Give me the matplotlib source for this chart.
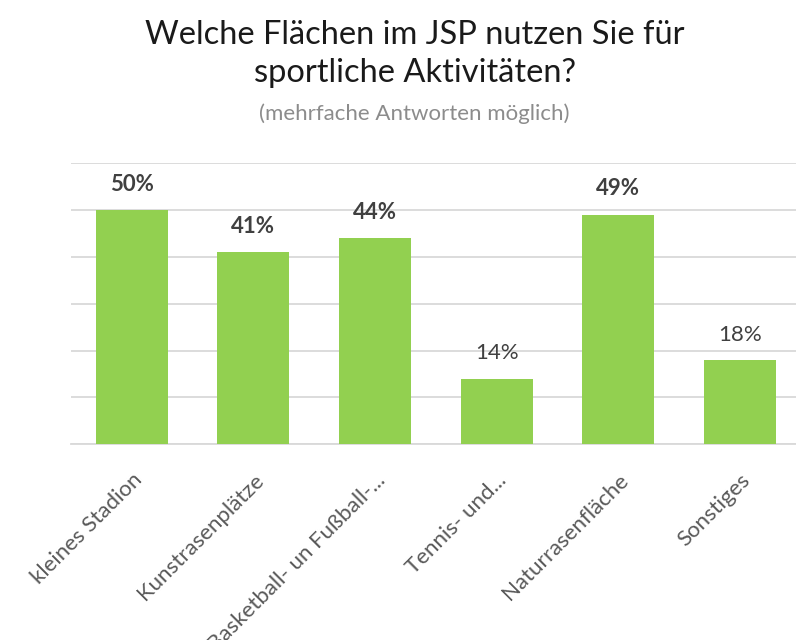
import matplotlib.pyplot as plt
import numpy as np

categories = [
    "kleines Stadion",
    "Kunstrasenplätze",
    "Basketball- un Fußball-...",
    "Tennis- und...",
    "Naturrasenfläche",
    "Sonstiges",
]
values = [50, 41, 44, 14, 49, 18]
value_labels = ["50%", "41%", "44%", "14%", "49%", "18%"]
grid_ticks = [0, 10, 20, 30, 40, 50, 60]

# the two small values look lighter in the original
label_weights = ["bold", "bold", "bold", "normal", "bold", "normal"]

plt.rcParams["font.family"] = ["Lato", "DejaVu Sans"]

fig = plt.figure(figsize=(7.96, 6.4), dpi=100)
# plot area runs past the right edge, as in the cropped original
ax = fig.add_axes([0.089, 0.306, 0.917, 0.439])

x = np.arange(len(categories))
bars = ax.bar(x, values, width=0.59, color="#92D050", zorder=3)

for b, lab, w in zip(bars, value_labels, label_weights):
    ax.annotate(
        lab,
        (b.get_x() + b.get_width() / 2, b.get_height()),
        xytext=(0, 11),
        textcoords="offset points",
        ha="center",
        va="bottom",
        fontsize=16,
        fontweight=w,
        color="#404040",
    )

ax.set_xlim(-0.5, len(categories) - 0.5)
ax.set_ylim(0, 60)
ax.set_yticks(grid_ticks)
ax.yaxis.grid(True, color="#d9d9d9", linewidth=1.3, zorder=0)
ax.tick_params(axis="y", left=False, labelleft=False)
ax.tick_params(axis="x", bottom=False, pad=15)
ax.set_xticks(x)
ax.set_xticklabels(
    categories,
    rotation=45,
    ha="right",
    rotation_mode="anchor",
    fontsize=16,
    color="#595959",
)
for side in ["left", "right", "top"]:
    ax.spines[side].set_visible(False)
ax.spines["bottom"].set_color("#d9d9d9")
ax.spines["bottom"].set_linewidth(1.3)

fig.text(0.521, 0.945, "Welche Flächen im JSP nutzen Sie für", ha="center",
         va="center", fontsize=23.5, color="#1a1a1a")
fig.text(0.521, 0.886, "sportliche Aktivitäten?", ha="center",
         va="center", fontsize=23.5, color="#1a1a1a")
fig.text(0.521, 0.823, "(mehrfache Antworten möglich)", ha="center",
         va="center", fontsize=16, color="#8c8c8c")

fig.savefig("out.png", dpi=100)
